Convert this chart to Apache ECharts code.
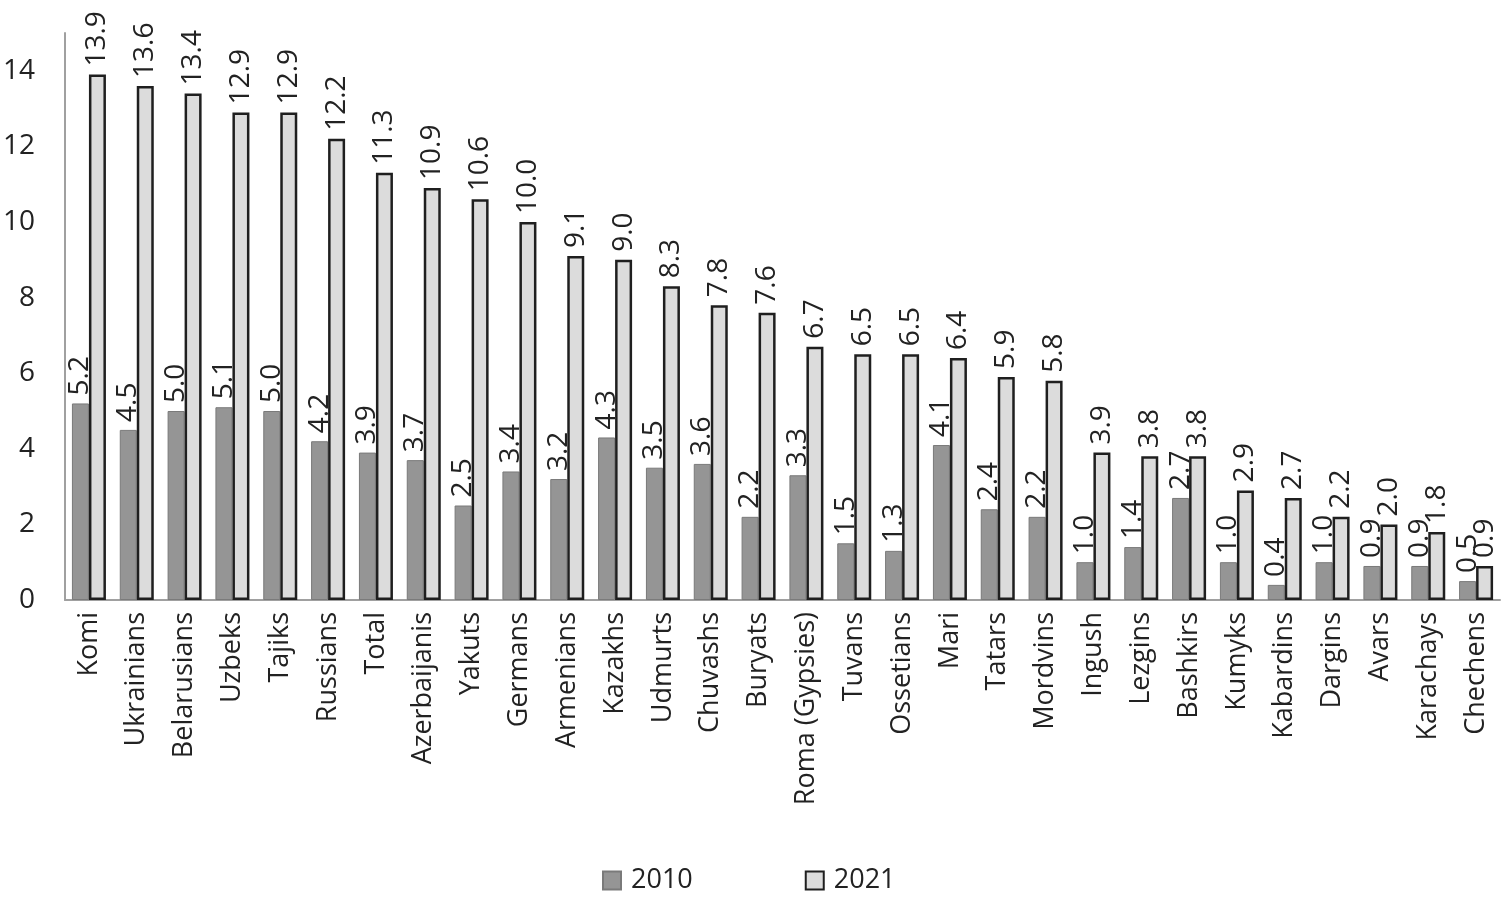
<!DOCTYPE html>
<html>
<head>
<meta charset="utf-8">
<script src="https://cdn.jsdelivr.net/npm/echarts@6/dist/echarts.min.js"></script>
<style>
  html, body { margin: 0; padding: 0; background: #fff; }
  #chart { width: 1508px; height: 900px; }
</style>
</head>
<body>
<div id="chart"></div>
<script>
const categories = ['Komi', 'Ukrainians', 'Belarusians', 'Uzbeks', 'Tajiks', 'Russians', 'Total',
    'Azerbaijanis', 'Yakuts', 'Germans', 'Armenians', 'Kazakhs', 'Udmurts', 'Chuvashs', 'Buryats',
    'Roma (Gypsies)', 'Tuvans', 'Ossetians', 'Mari', 'Tatars', 'Mordvins', 'Ingush', 'Lezgins',
    'Bashkirs', 'Kumyks', 'Kabardins', 'Dargins', 'Avars', 'Karachays', 'Chechens'];
const values2010 = [5.2, 4.5, 5.0, 5.1, 5.0, 4.2, 3.9, 3.7, 2.5, 3.4, 3.2, 4.3, 3.5, 3.6, 2.2,
    3.3, 1.5, 1.3, 4.1, 2.4, 2.2, 1.0, 1.4, 2.7, 1.0, 0.4, 1.0, 0.9, 0.9, 0.5];
const values2021 = [13.9, 13.6, 13.4, 12.9, 12.9, 12.2, 11.3, 10.9, 10.6, 10.0, 9.1, 9.0, 8.3, 7.8, 7.6,
    6.7, 6.5, 6.5, 6.4, 5.9, 5.8, 3.9, 3.8, 3.8, 2.9, 2.7, 2.2, 2.0, 1.8, 0.9];
const yTicks = [0, 2, 4, 6, 8, 10, 12, 14];

const font = '"Open Sans", "Noto Sans", sans-serif';
const chart = echarts.init(document.getElementById('chart'));

// value labels, turned upright above each bar
const barLabel = {
    show: true,
    position: 'top',
    rotate: 90,
    align: 'left',
    verticalAlign: 'middle',
    distance: 8,
    fontFamily: font,
    fontSize: 28,
    color: '#222',
    formatter: p => p.value.toFixed(1)
};

chart.setOption({
    animation: false,
    textStyle: { fontFamily: font },
    grid: { left: 65, right: 8, top: 33, bottom: 300 },
    legend: {
        top: 862,
        left: 597,
        icon: 'rect',
        itemWidth: 18,
        itemHeight: 18,
        itemGap: 112,
        textStyle: { fontSize: 27, color: '#222', fontFamily: font, padding: [0, 0, 0, 5] },
        data: ['2010', '2021']
    },
    xAxis: {
        type: 'category',
        data: categories,
        axisLine: { lineStyle: { color: '#a0a0a0', width: 2 } },
        axisTick: { show: false },
        axisLabel: {
            rotate: 90,
            interval: 0,
            margin: 12,
            fontSize: 27,
            color: '#222',
            fontFamily: font
        }
    },
    yAxis: {
        type: 'value',
        min: 0,
        max: 15,
        interval: 2,
        splitLine: { show: false },
        axisLine: { show: true, lineStyle: { color: '#a0a0a0', width: 2 } },
        axisTick: { show: false },
        axisLabel: {
            margin: 30,
            fontSize: 28,
            color: '#222',
            fontFamily: font,
            formatter: v => (yTicks.includes(v) ? String(v) : '')
        }
    },
    series: [
        {
            name: '2010',
            type: 'bar',
            data: values2010,
            barWidth: 17,
            barGap: '0%',
            itemStyle: { color: '#959595', borderColor: '#7a7a7a', borderWidth: 1 },
            label: barLabel
        },
        {
            name: '2021',
            type: 'bar',
            data: values2021,
            barWidth: 17,
            itemStyle: { color: '#dcdcdc', borderColor: '#1f1f1f', borderWidth: 2.5 },
            label: barLabel
        }
    ]
});
</script>
</body>
</html>
